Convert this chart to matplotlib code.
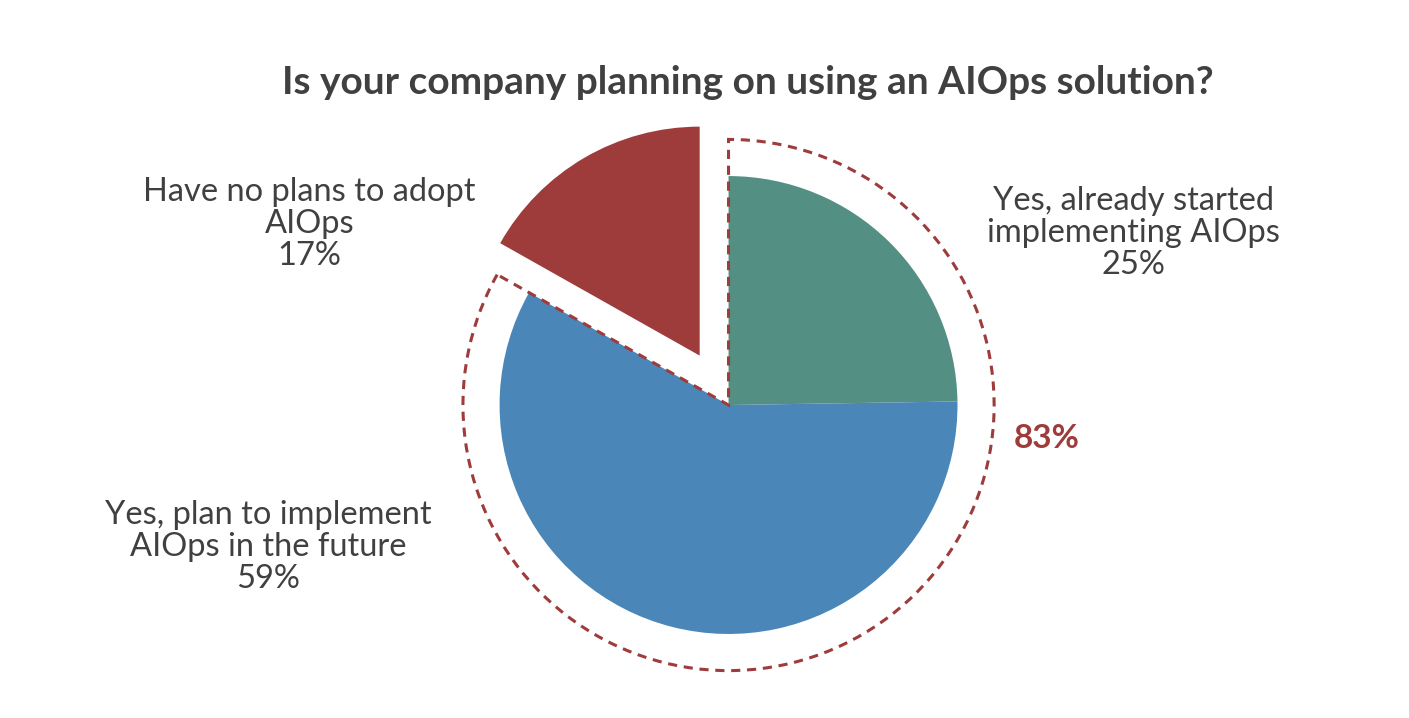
import matplotlib.pyplot as plt
from matplotlib.patches import Wedge

plt.rcParams['font.family'] = ['Lato', 'DejaVu Sans']

labels = ['Yes, already started\nimplementing AIOps', 'Yes, plan to implement\nAIOps in the future',
          'Have no plans to adopt\nAIOps']
values = [25, 59, 17]
colors = ['#548f84', '#4a87b8', '#9e3b3b']
explode = [0, 0, 0.25]
adopt_total = 83  # shown next to the dashed ring

fig = plt.figure(figsize=(14.09, 7.18), dpi=100)
ax = fig.add_axes([0, 0, 1, 1])

ax.pie(values, colors=colors, explode=explode, startangle=90, counterclock=False,
       radius=1.0, wedgeprops=dict(linewidth=0))

ax.set_xlim(-3.18, 2.97)
ax.set_ylim(-1.367, 1.769)
ax.set_aspect('equal')
ax.axis('off')

# dashed outline around the "yes" answers
total = sum(values)
end_ang = 90 - 360 * (values[0] + values[1]) / total
ring = Wedge((0, 0), 1.16, end_ang, 90, fill=False, edgecolor='#9e3b3b',
             linestyle=(0, (3, 2.2)), linewidth=2.2)
ax.add_patch(ring)

txt = '#404040'
ax.text(1.77, 0.75, labels[0] + '\n%d%%' % values[0], ha='center', va='center',
        fontsize=23.5, color=txt, linespacing=1.08)
ax.text(-2.01, -0.62, labels[1] + '\n%d%%' % values[1], ha='center', va='center',
        fontsize=23.5, color=txt, linespacing=1.08)
ax.text(-1.83, 0.79, labels[2] + '\n%d%%' % values[2], ha='center', va='center',
        fontsize=23.5, color=txt, linespacing=1.08)
ax.text(1.39, -0.145, '%d%%' % adopt_total, ha='center', va='center',
        fontsize=24, color='#9e3b3b', fontweight='bold')

fig.text(0.531, 0.885, 'Is your company planning on using an AIOps solution?',
         ha='center', va='center', fontsize=28, fontweight='bold', color=txt)

fig.savefig('out.png', dpi=100)
